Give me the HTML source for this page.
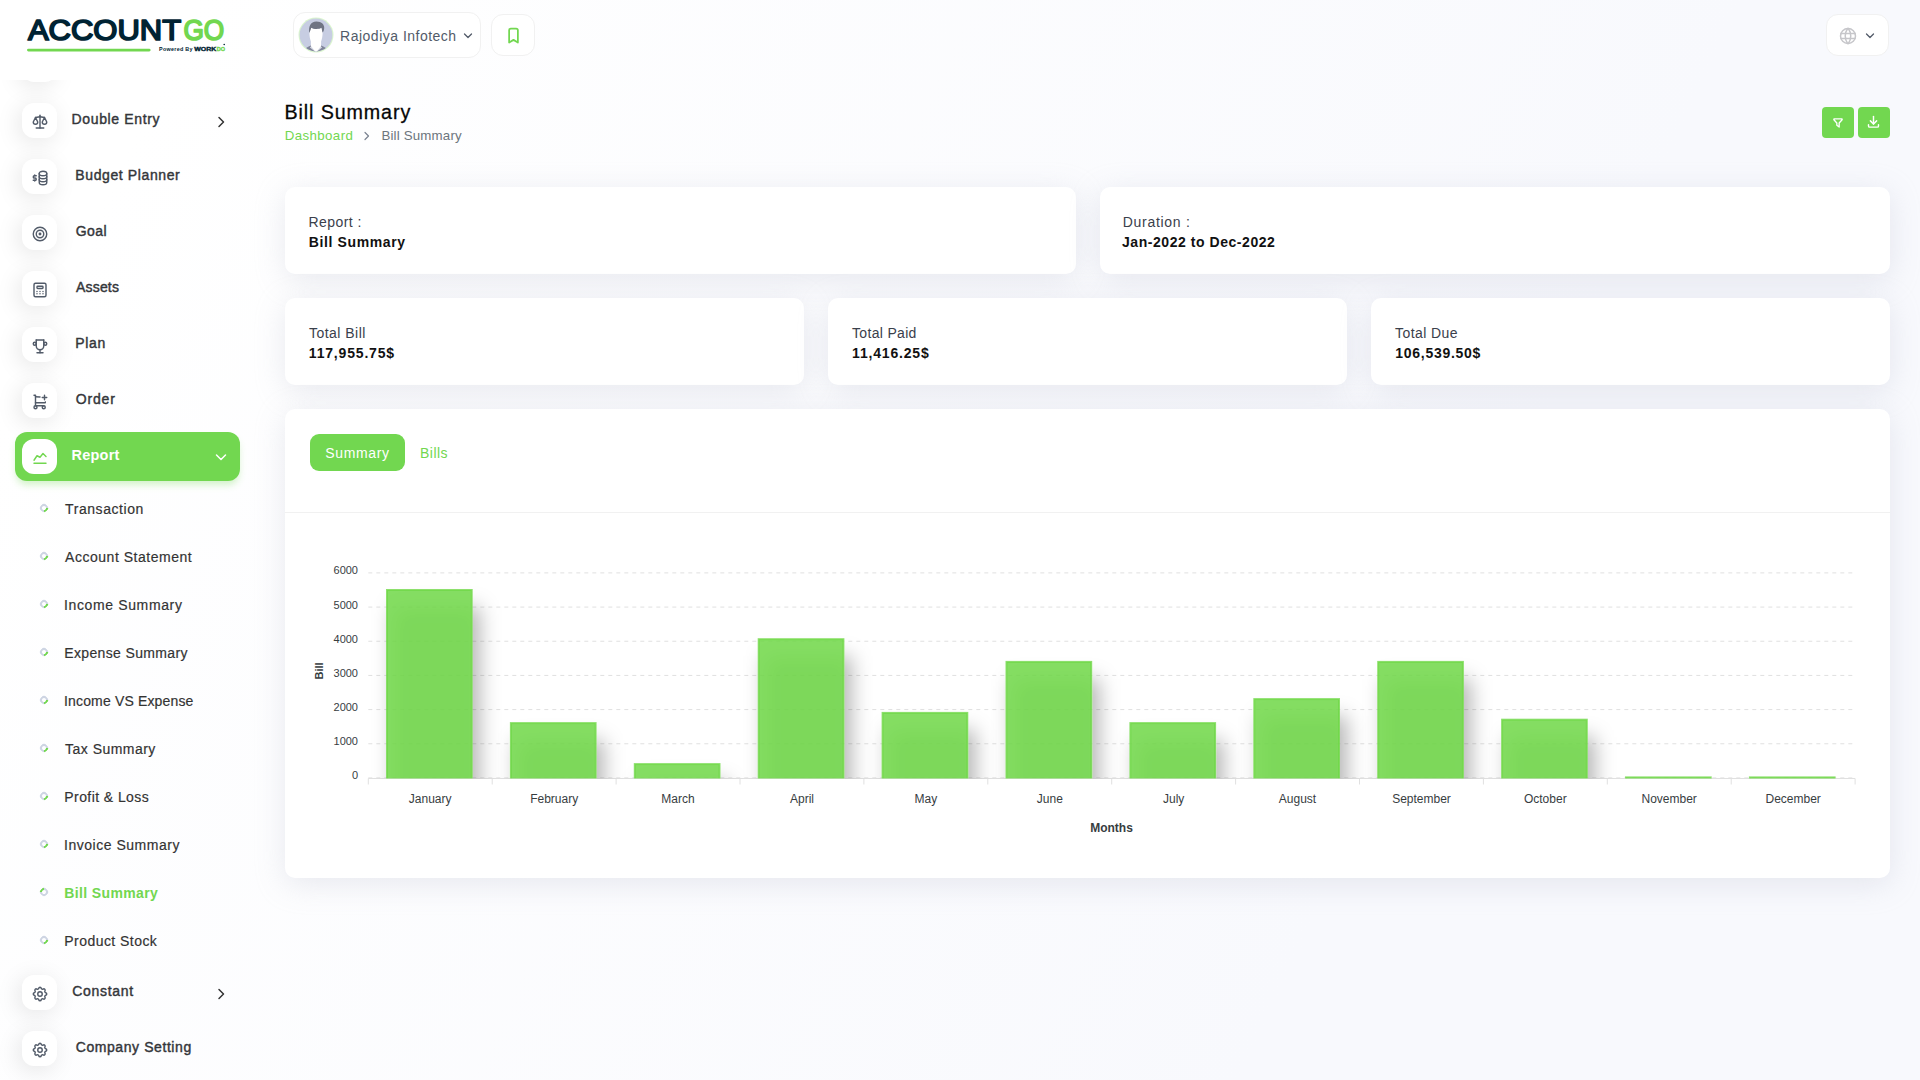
<!DOCTYPE html>
<html lang="en">
<head>
<meta charset="utf-8">
<title>Bill Summary</title>
<style>
*{box-sizing:border-box;margin:0;padding:0}
html,body{width:1920px;height:1080px;overflow:hidden}
body{font-family:"Liberation Sans",sans-serif;font-size:14px;color:#293240;background:linear-gradient(115deg,#fff 8%,#f8f9fd 72%);position:relative}
.abs{position:absolute}
svg{display:block}
/* ---------- sidebar ---------- */
#sidebar{position:absolute;left:0;top:0;width:280px;height:1080px}
.nav{position:absolute;left:0;width:280px;height:35px}
.nav .ib{position:absolute;left:22px;top:0;width:35px;height:35px;border-radius:12px;background:#fff;box-shadow:-3px 4px 23px rgba(0,0,0,.1)}
.nav .ib svg{position:absolute;left:8.6px;top:9.7px;width:18px;height:18px;stroke:#525b69;fill:none;stroke-width:1.9;stroke-linecap:round;stroke-linejoin:round}
.nav .t{position:absolute;top:6px;font-size:14px;font-weight:normal;-webkit-text-stroke:.42px #34363a;color:#34363a;letter-spacing:.1px;white-space:nowrap;line-height:20px}
.nav .ar{position:absolute;left:217px;top:13px;width:9px;height:12px;stroke:#333;fill:none;stroke-width:1.5;stroke-linecap:round;stroke-linejoin:round}
.sub{position:absolute;left:65px;font-size:14px;color:#333;-webkit-text-stroke:.18px #333;white-space:nowrap;line-height:20px;letter-spacing:.45px}
.dot{position:absolute;left:40px;width:8px;height:8px}
.dot{border:2px solid #ced5e3;border-bottom-color:#72d750;border-radius:50%;transform:rotate(-45deg)}
.dot.on{transform:rotate(135deg)}
.sub.on{color:#72d750;font-weight:bold;-webkit-text-stroke:0;letter-spacing:.1px}
.nav.act .t{color:#fff;font-weight:bold;font-size:14.5px;-webkit-text-stroke:0}
.nav.act .ib{box-shadow:none}
.nav.act .ib svg{stroke:#72d750}
.nav.act .ar{stroke:#fff}
/* ---------- header ---------- */
.hbox{position:absolute;background:#fff;border:1px solid #f1f1f1;border-radius:10px}
.btn{width:32px;height:31px;border-radius:4px;background:#72d750;display:flex;align-items:center;justify-content:center}
/* ---------- cards ---------- */
.card{position:absolute;background:#fff;border-radius:10px;box-shadow:0 6px 30px rgba(182,186,203,.3)}
.card .l{position:absolute;left:24px;top:25px;font-size:14px;color:#3a404b;line-height:20px;letter-spacing:.35px;white-space:nowrap}
.card .v{position:absolute;left:24px;top:45px;font-size:14px;font-weight:bold;color:#111;line-height:20px;letter-spacing:.3px;white-space:nowrap}
/*FIT*/
#n1{letter-spacing:0.63px !important;margin-left:-0.4px}
#n2{letter-spacing:0.61px !important;margin-left:-0.7px}
#n3{letter-spacing:0.44px !important;margin-left:-0.3px}
#n4{letter-spacing:0.16px !important;margin-left:0.1px}
#n5{letter-spacing:0.61px !important;margin-left:-0.7px}
#n6{letter-spacing:0.85px !important;margin-left:-0.3px}
#n7{letter-spacing:0.22px !important;margin-left:-0.5px}
#n8{letter-spacing:0.69px !important;margin-left:0.2px}
#n9{letter-spacing:0.58px !important;margin-left:-0.3px}
#s1{letter-spacing:0.56px !important;margin-left:0.1px}
#s2{letter-spacing:0.52px !important;margin-left:0.1px}
#s3{letter-spacing:0.63px !important;margin-left:-1.0px}
#s4{letter-spacing:0.35px !important;margin-left:-0.7px}
#s5{letter-spacing:0.16px !important;margin-left:-1.0px}
#s6{letter-spacing:0.47px !important;margin-left:0.1px}
#s7{letter-spacing:0.42px !important;margin-left:-0.7px}
#s8{letter-spacing:0.52px !important;margin-left:-1.0px}
#s9{letter-spacing:0.37px !important;margin-left:-0.7px}
#s10{letter-spacing:0.45px !important;margin-left:-0.7px}
#h1{letter-spacing:0.49px !important;margin-left:-0.9px}
#p1{letter-spacing:0.90px !important;margin-left:-0.6px}
#p2{letter-spacing:0.37px !important;margin-left:-0.2px}
#p3{letter-spacing:0.18px !important;margin-left:-0.6px}
#c1{letter-spacing:0.44px !important;margin-left:-0.5px}
#c2{letter-spacing:0.61px !important;margin-left:-0.2px}
#c3{letter-spacing:0.70px !important;margin-left:-0.7px}
#c4{letter-spacing:0.55px !important;margin-left:-1.5px}
#c5{letter-spacing:0.47px !important;margin-left:-0.0px}
#c6{letter-spacing:0.82px !important;margin-left:-0.2px}
#c7{letter-spacing:0.32px !important;margin-left:0.0px}
#c8{letter-spacing:0.81px !important;margin-left:0.1px}
#c9{letter-spacing:0.43px !important;margin-left:0.0px}
#c10{letter-spacing:0.72px !important;margin-left:0.3px}
#p4{letter-spacing:0.64px !important;margin-left:-0.7px}
#p5{letter-spacing:0.42px !important;margin-left:-0.9px}
/*/FIT*/
</style>
</head>
<body>
<!-- SIDEBAR -->
<div id="sidebar">
  <!-- logo -->
  <svg class="abs" style="left:20px;top:10px" width="215" height="50" viewBox="20 10 215 50" font-family="Liberation Sans, sans-serif" font-weight="bold">
    <text x="27.900" y="40.100" font-size="28.600" font-weight="normal" fill="#002333" stroke="#002333" stroke-width="1.700" stroke-linejoin="round" textLength="153.300"  lengthAdjust="spacingAndGlyphs">ACCOUNT</text>
    <text x="183.400" y="40.100" font-size="28.600" font-weight="normal" fill="#72d750" stroke="#72d750" stroke-width="1.700" stroke-linejoin="round" textLength="40.900"  lengthAdjust="spacingAndGlyphs">GO</text>
    <rect x="27" y="48.700" width="123.600" height="2.800" rx="1.400" fill="#72d750"/>
    <text x="159" y="51.300" font-size="5.400" fill="#002333" textLength="33.500" lengthAdjust="spacing">Powered By</text>
    <text x="194.300" y="51.200" font-size="5.200" fill="#002333" stroke="#002333" stroke-width=".35" textLength="22" lengthAdjust="spacingAndGlyphs">WORK</text>
    <text x="216.700" y="51.200" font-size="5.200" fill="#72d750" stroke="#72d750" stroke-width=".35" textLength="8.300" lengthAdjust="spacingAndGlyphs">DO</text>
    <circle cx="224.200" cy="44.500" r=".8" fill="#002333"/>
  </svg>
  <!-- partially hidden item above -->
  <div class="abs" style="left:22px;top:47px;width:35px;height:35px;border-radius:12px;background:#fff;box-shadow:-3px 4px 23px rgba(0,0,0,.1);clip-path:inset(33px -40px -40px -40px)"></div>

  <div class="nav" style="top:103px"><div class="ib"><svg viewBox="0 0 24 24"><path d="M7 20h10"/><path d="M6 6l6 -1l6 1"/><path d="M12 3v17"/><path d="M9 12l-3 -6l-3 6a3 3 0 0 0 6 0"/><path d="M21 12l-3 -6l-3 6a3 3 0 0 0 6 0"/></svg></div><span id="n1" class="t" style="left:72px">Double Entry</span><svg class="ar" viewBox="0 0 9 12"><path d="M2 1.5l4.5 4.5l-4.5 4.5"/></svg></div>

  <div class="nav" style="top:159px"><div class="ib"><svg viewBox="0 0 24 24"><ellipse cx="16" cy="6" rx="5" ry="3"/><path d="M11 6v4c0 1.657 2.239 3 5 3s5 -1.343 5 -3v-4"/><path d="M11 10v4c0 1.657 2.239 3 5 3s5 -1.343 5 -3v-4"/><path d="M11 14v4c0 1.657 2.239 3 5 3s5 -1.343 5 -3v-4"/><path d="M7 9h-2.500a1.500 1.500 0 0 0 0 3h1a1.500 1.500 0 0 1 0 3h-2.500"/><path d="M5 15v1m0 -8v1"/></svg></div><span id="n2" class="t" style="left:76px">Budget Planner</span></div>

  <div class="nav" style="top:215px"><div class="ib"><svg viewBox="0 0 24 24"><circle cx="12" cy="12" r="1"/><circle cx="12" cy="12" r="5"/><circle cx="12" cy="12" r="9"/></svg></div><span id="n3" class="t" style="left:76px">Goal</span></div>

  <div class="nav" style="top:271px"><div class="ib"><svg viewBox="0 0 24 24"><rect x="4" y="3" width="16" height="18" rx="2"/><rect x="8" y="7" width="8" height="3" rx="1"/><path d="M8 14v.01M12 14v.01M16 14v.01M8 17v.01M12 17v.01M16 17v.01"/></svg></div><span id="n4" class="t" style="left:76px">Assets</span></div>

  <div class="nav" style="top:327px"><div class="ib"><svg viewBox="0 0 24 24"><path d="M8 21h8"/><path d="M12 17v4"/><path d="M7 4h10"/><path d="M17 4v8a5 5 0 0 1 -10 0v-8"/><circle cx="5" cy="9" r="2"/><circle cx="19" cy="9" r="2"/></svg></div><span id="n5" class="t" style="left:76px">Plan</span></div>

  <div class="nav" style="top:383px"><div class="ib"><svg viewBox="0 0 24 24"><circle cx="6" cy="19" r="2"/><circle cx="17" cy="19" r="2"/><path d="M17 17h-11v-14h-2"/><path d="M6 5l6.005 .429m7.138 6.573l-.143 .998h-13"/><path d="M15 6h6m-3 -3v6"/></svg></div><span id="n6" class="t" style="left:76px">Order</span></div>

  <!-- active -->
  <div class="abs" style="left:15px;top:432px;width:225px;height:48.8px;border-radius:12px;background:#72d750;box-shadow:0 5px 7px -1px rgba(114,215,80,.3)"></div>
  <div class="nav act" style="top:439px"><div class="ib"><svg viewBox="0 0 24 24"><path d="M4 19h16"/><path d="M4 15l4 -6l4 2l4 -5l4 4"/></svg></div><span id="n7" class="t" style="left:72px">Report</span><svg class="ar" viewBox="0 0 12 9" style="left:215px;top:14px;width:12px;height:9px"><path d="M1.5 2l4.5 4.5l4.5 -4.5"/></svg></div>

  <div class="dot" style="top:504px"></div><div id="s1" class="sub" style="top:499px">Transaction</div>
  <div class="dot" style="top:552px"></div><div id="s2" class="sub" style="top:547px">Account Statement</div>
  <div class="dot" style="top:600px"></div><div id="s3" class="sub" style="top:595px">Income Summary</div>
  <div class="dot" style="top:648px"></div><div id="s4" class="sub" style="top:643px">Expense Summary</div>
  <div class="dot" style="top:696px"></div><div id="s5" class="sub" style="top:691px">Income VS Expense</div>
  <div class="dot" style="top:744px"></div><div id="s6" class="sub" style="top:739px">Tax Summary</div>
  <div class="dot" style="top:792px"></div><div id="s7" class="sub" style="top:787px">Profit &amp; Loss</div>
  <div class="dot" style="top:840px"></div><div id="s8" class="sub" style="top:835px">Invoice Summary</div>
  <div class="dot on" style="top:888px"></div><div id="s9" class="sub on" style="top:883px">Bill Summary</div>
  <div class="dot" style="top:936px"></div><div id="s10" class="sub" style="top:931px">Product Stock</div>

  <div class="nav" style="top:975px"><div class="ib"><svg viewBox="0 0 24 24"><path d="M10.325 4.317c.426 -1.756 2.924 -1.756 3.35 0a1.724 1.724 0 0 0 2.573 1.066c1.543 -.94 3.31 .826 2.37 2.37a1.724 1.724 0 0 0 1.065 2.572c1.756 .426 1.756 2.924 0 3.35a1.724 1.724 0 0 0 -1.066 2.573c.94 1.543 -.826 3.31 -2.37 2.37a1.724 1.724 0 0 0 -2.572 1.065c-.426 1.756 -2.924 1.756 -3.35 0a1.724 1.724 0 0 0 -2.573 -1.066c-1.543 .94 -3.31 -.826 -2.37 -2.37a1.724 1.724 0 0 0 -1.065 -2.572c-1.756 -.426 -1.756 -2.924 0 -3.35a1.724 1.724 0 0 0 1.066 -2.573c-.94 -1.543 .826 -3.31 2.37 -2.37c1 .608 2.296 .07 2.572 -1.065z"/><circle cx="12" cy="12" r="3"/></svg></div><span id="n8" class="t" style="left:72px">Constant</span><svg class="ar" viewBox="0 0 9 12"><path d="M2 1.5l4.5 4.5l-4.5 4.5"/></svg></div>

  <div class="nav" style="top:1031px"><div class="ib"><svg viewBox="0 0 24 24"><path d="M10.325 4.317c.426 -1.756 2.924 -1.756 3.35 0a1.724 1.724 0 0 0 2.573 1.066c1.543 -.94 3.31 .826 2.37 2.37a1.724 1.724 0 0 0 1.065 2.572c1.756 .426 1.756 2.924 0 3.35a1.724 1.724 0 0 0 -1.066 2.573c.94 1.543 -.826 3.31 -2.37 2.37a1.724 1.724 0 0 0 -2.572 1.065c-.426 1.756 -2.924 1.756 -3.35 0a1.724 1.724 0 0 0 -2.573 -1.066c-1.543 .94 -3.31 -.826 -2.37 -2.37a1.724 1.724 0 0 0 -1.065 -2.572c-1.756 -.426 -1.756 -2.924 0 -3.35a1.724 1.724 0 0 0 1.066 -2.573c-.94 -1.543 .826 -3.31 2.37 -2.37c1 .608 2.296 .07 2.572 -1.065z"/><circle cx="12" cy="12" r="3"/></svg></div><span id="n9" class="t" style="left:76px">Company Setting</span></div>
</div>
<!-- HEADER -->
<div id="header">
  <div class="hbox" style="left:293px;top:12px;width:188px;height:46px;border-radius:12px">
    <svg class="abs" style="left:4.200px;top:4.400px" width="36" height="36" viewBox="-.900 -.900 36 36">
      <defs><clipPath id="av"><circle cx="17.100" cy="17.100" r="16.400"/></clipPath></defs>
      <circle cx="17.100" cy="17.100" r="17.500" fill="#daf5ce"/>
      <circle cx="17.100" cy="17.100" r="16.400" fill="#c7cde2"/>
      <g clip-path="url(#av)">
        <path d="M4.500 35c.500-4.500 4-6 9-7.800l3.600 7l3.600-7c5 1.800 8.500 3.300 9 7.800z" fill="#80859a"/>
        <path d="M13.300 27.300l-2.300 2.400l6.100 4.700l6.100-4.700l-2.300-2.400z" fill="#d9dce6"/>
        <path d="M12.200 9.800c2.500 1.600 8 1.600 10.500 0l1 4.700c0 3.500-.600 6.500-1.500 9v4.500l-5.100 6.400l-5.100-6.400v-4.500c-.900-2.500-1.500-5.500-1.500-9z" fill="#fff"/>
        <path d="M10.500 15.200c-1.200-6 1-11.600 7-11.600c5.500 0 8 3.300 7.800 6.500c-.100 2.400-.900 3.900-1.700 4.500l-1-4.700c-2.500 1.600-7.700 1.600-10.200-.100z" fill="#6f7483"/>
      </g>
    </svg>
    <span id="h1" class="abs" style="left:47px;top:13px;font-size:14px;line-height:20px;color:#525b69;letter-spacing:.55px;white-space:nowrap">Rajodiya Infotech</span>
    <svg class="abs" style="left:169px;top:18.700px" width="10" height="8" viewBox="0 0 10 8" fill="none" stroke="#525b69" stroke-width="1.3" stroke-linecap="round" stroke-linejoin="round"><path d="M1.500 2l3.500 3.500l3.500-3.500"/></svg>
  </div>
  <div class="hbox" style="left:491px;top:14px;width:44px;height:42px;border-radius:12px">
    <svg class="abs" style="left:10.600px;top:10.200px" width="21" height="21" viewBox="0 0 24 24" fill="none" stroke="#72d750" stroke-width="2" stroke-linecap="round" stroke-linejoin="round"><path d="M9 4h6a2 2 0 0 1 2 2v14l-5 -3l-5 3v-14a2 2 0 0 1 2 -2"/></svg>
  </div>
  <div class="hbox" style="left:1825.700px;top:14px;width:63.800px;height:42px;border-radius:12px">
    <svg class="abs" style="left:11.800px;top:11px" width="20" height="20" viewBox="0 0 24 24" fill="none" stroke="#c6c6ca" stroke-width="1.8" stroke-linecap="round" stroke-linejoin="round"><circle cx="12" cy="12" r="9"/><path d="M3.600 9h16.800M3.600 15h16.800"/><path d="M11.500 3a17 17 0 0 0 0 18"/><path d="M12.500 3a17 17 0 0 1 0 18"/></svg>
    <svg class="abs" style="left:38.800px;top:17px" width="10" height="8" viewBox="0 0 10 8" fill="none" stroke="#525b69" stroke-width="1.3" stroke-linecap="round" stroke-linejoin="round"><path d="M1.500 2l3.500 3.500l3.500-3.500"/></svg>
  </div>
</div>
<!-- MAIN -->
<div id="main">
  <div id="p1" class="abs" style="left:285px;top:99px;font-size:19.700px;line-height:26px;color:#060606;letter-spacing:.2px;white-space:nowrap;-webkit-text-stroke:.28px #060606">Bill Summary</div>
  <div id="p2" class="abs" style="left:285px;top:125.600px;font-size:13.300px;line-height:20px;color:#72d750;letter-spacing:.4px;white-space:nowrap">Dashboard</div>
  <svg class="abs" style="left:362px;top:129.600px" width="9" height="12" viewBox="0 0 9 12" fill="none" stroke="#7a8290" stroke-width="1.2" stroke-linecap="round" stroke-linejoin="round"><path d="M3 2.500l3.500 3.500l-3.500 3.500"/></svg>
  <div id="p3" class="abs" style="left:382px;top:125.600px;font-size:13.300px;line-height:20px;color:#6c757d;letter-spacing:.4px;white-space:nowrap">Bill Summary</div>

  <div class="abs btn" style="left:1822px;top:107px"><svg width="14" height="14" viewBox="0 0 24 24" fill="none" stroke="#fff" stroke-width="2.300" stroke-linecap="round" stroke-linejoin="round"><path d="M5.500 5h13a1 1 0 0 1 .500 1.500l-5 5.500v7l-4 -3v-4l-5 -5.500a1 1 0 0 1 .500 -1.500"/></svg></div>
  <div class="abs btn" style="left:1858px;top:107px"><svg style="margin:-1.400px 0 0 -1.200px" width="15" height="15" viewBox="0 0 24 24" fill="none" stroke="#fff" stroke-width="2.300" stroke-linecap="round" stroke-linejoin="round"><path d="M4 17v2a2 2 0 0 0 2 2h12a2 2 0 0 0 2 -2v-2"/><path d="M7 11l5 5l5 -5"/><path d="M12 4v12"/></svg></div>

  <div class="card" style="left:285px;top:187px;width:790.500px;height:86.500px"><div id="c1" class="l">Report :</div><div id="c2" class="v">Bill Summary</div></div>
  <div class="card" style="left:1099.500px;top:187px;width:790.500px;height:86.500px"><div id="c3" class="l">Duration :</div><div id="c4" class="v">Jan-2022 to Dec-2022</div></div>

  <div class="card" style="left:285px;top:298px;width:519px;height:86.500px"><div id="c5" class="l">Total Bill</div><div id="c6" class="v">117,955.75$</div></div>
  <div class="card" style="left:828px;top:298px;width:519px;height:86.500px"><div id="c7" class="l">Total Paid</div><div id="c8" class="v">11,416.25$</div></div>
  <div class="card" style="left:1371px;top:298px;width:519px;height:86.500px"><div id="c9" class="l">Total Due</div><div id="c10" class="v">106,539.50$</div></div>

  <div class="card" style="left:285px;top:409px;width:1605px;height:468.500px">
    <div class="abs" style="left:25px;top:25px;width:95px;height:37px;border-radius:9px;background:#72d750"></div>
    <div id="p4" class="abs" style="left:41px;top:34px;font-size:14px;line-height:20px;color:#fff;letter-spacing:.5px;white-space:nowrap">Summary</div>
    <div id="p5" class="abs" style="left:136px;top:34px;font-size:14px;line-height:20px;color:#72d750;letter-spacing:.5px;white-space:nowrap">Bills</div>
    <div class="abs" style="left:0;top:103px;width:1605px;height:1px;background:#f1f1f1"></div>
  </div>
<!--CHART-->
<svg class="abs" style="left:285px;top:514px" width="1605" height="362" viewBox="285 514 1605 362" font-family="Liberation Sans, sans-serif">
<defs><filter id="ds" x="-50%" y="-50%" width="200%" height="250%"><feFlood flood-color="#000" flood-opacity="0.34" result="f"/><feComposite in="f" in2="SourceAlpha" operator="in" result="c"/><feOffset in="c" dx="7" dy="18" result="o"/><feGaussianBlur in="o" stdDeviation="10" result="b"/><feMerge><feMergeNode in="b"/><feMergeNode in="SourceGraphic"/></feMerge></filter><clipPath id="cp"><rect x="368.3" y="560" width="1486.8" height="218.5"/></clipPath></defs>
<g stroke="#e0e0e0" stroke-width="1" stroke-dasharray="4 4"><line x1="368.3" y1="572.90" x2="1855.1" y2="572.90"/><line x1="368.3" y1="607.07" x2="1855.1" y2="607.07"/><line x1="368.3" y1="641.24" x2="1855.1" y2="641.24"/><line x1="368.3" y1="675.41" x2="1855.1" y2="675.41"/><line x1="368.3" y1="709.58" x2="1855.1" y2="709.58"/><line x1="368.3" y1="743.75" x2="1855.1" y2="743.75"/><line x1="368.3" y1="777.92" x2="1855.1" y2="777.92"/></g>
<g stroke="#e0e0e0" stroke-width="1"><line x1="368.3" y1="778.5" x2="1855.1" y2="778.5"/><line x1="368.30" y1="778.5" x2="368.30" y2="784.5"/><line x1="492.20" y1="778.5" x2="492.20" y2="784.5"/><line x1="616.10" y1="778.5" x2="616.10" y2="784.5"/><line x1="740.00" y1="778.5" x2="740.00" y2="784.5"/><line x1="863.90" y1="778.5" x2="863.90" y2="784.5"/><line x1="987.80" y1="778.5" x2="987.80" y2="784.5"/><line x1="1111.70" y1="778.5" x2="1111.70" y2="784.5"/><line x1="1235.60" y1="778.5" x2="1235.60" y2="784.5"/><line x1="1359.50" y1="778.5" x2="1359.50" y2="784.5"/><line x1="1483.40" y1="778.5" x2="1483.40" y2="784.5"/><line x1="1607.30" y1="778.5" x2="1607.30" y2="784.5"/><line x1="1731.20" y1="778.5" x2="1731.20" y2="784.5"/><line x1="1855.10" y1="778.5" x2="1855.10" y2="784.5"/></g>
<g clip-path="url(#cp)" fill="#70d848" fill-opacity=".85" stroke="#70d848" stroke-opacity=".8" stroke-width="2"><rect x="387.00" y="590.00" width="84.7" height="190.80" filter="url(#ds)"/><rect x="510.90" y="723.10" width="84.7" height="57.70" filter="url(#ds)"/><rect x="634.80" y="764.10" width="84.7" height="16.70" filter="url(#ds)"/><rect x="758.70" y="639.20" width="84.7" height="141.60" filter="url(#ds)"/><rect x="882.60" y="712.90" width="84.7" height="67.90" filter="url(#ds)"/><rect x="1006.50" y="661.90" width="84.7" height="118.90" filter="url(#ds)"/><rect x="1130.40" y="723.10" width="84.7" height="57.70" filter="url(#ds)"/><rect x="1254.30" y="699.10" width="84.7" height="81.70" filter="url(#ds)"/><rect x="1378.20" y="661.90" width="84.7" height="118.90" filter="url(#ds)"/><rect x="1502.10" y="719.70" width="84.7" height="61.10" filter="url(#ds)"/><rect x="1626.00" y="777.40" width="84.7" height="3.40" filter="url(#ds)"/><rect x="1749.90" y="777.40" width="84.7" height="3.40" filter="url(#ds)"/></g>
<g font-size="11" fill="#373d3f" text-anchor="end"><text x="358" y="574.3">6000</text><text x="358" y="608.5">5000</text><text x="358" y="642.6">4000</text><text x="358" y="676.8">3000</text><text x="358" y="711.0">2000</text><text x="358" y="745.1">1000</text><text x="358" y="779.3">0</text></g>
<g font-size="12" fill="#373d3f" text-anchor="middle"><text x="430.2" y="802.6">January</text><text x="554.2" y="802.6">February</text><text x="678.0" y="802.6">March</text><text x="802.0" y="802.6">April</text><text x="925.9" y="802.6">May</text><text x="1049.8" y="802.6">June</text><text x="1173.7" y="802.6">July</text><text x="1297.5" y="802.6">August</text><text x="1421.5" y="802.6">September</text><text x="1545.3" y="802.6">October</text><text x="1669.2" y="802.6">November</text><text x="1793.2" y="802.6">December</text></g>
<text x="1111.5" y="832" font-size="12" font-weight="bold" fill="#373d3f" text-anchor="middle">Months</text>
<text transform="translate(322.5 671) rotate(-90)" font-size="11" font-weight="bold" fill="#373d3f" text-anchor="middle">Bill</text>
</svg>
<!--/CHART-->
</div>
</body>
</html>
